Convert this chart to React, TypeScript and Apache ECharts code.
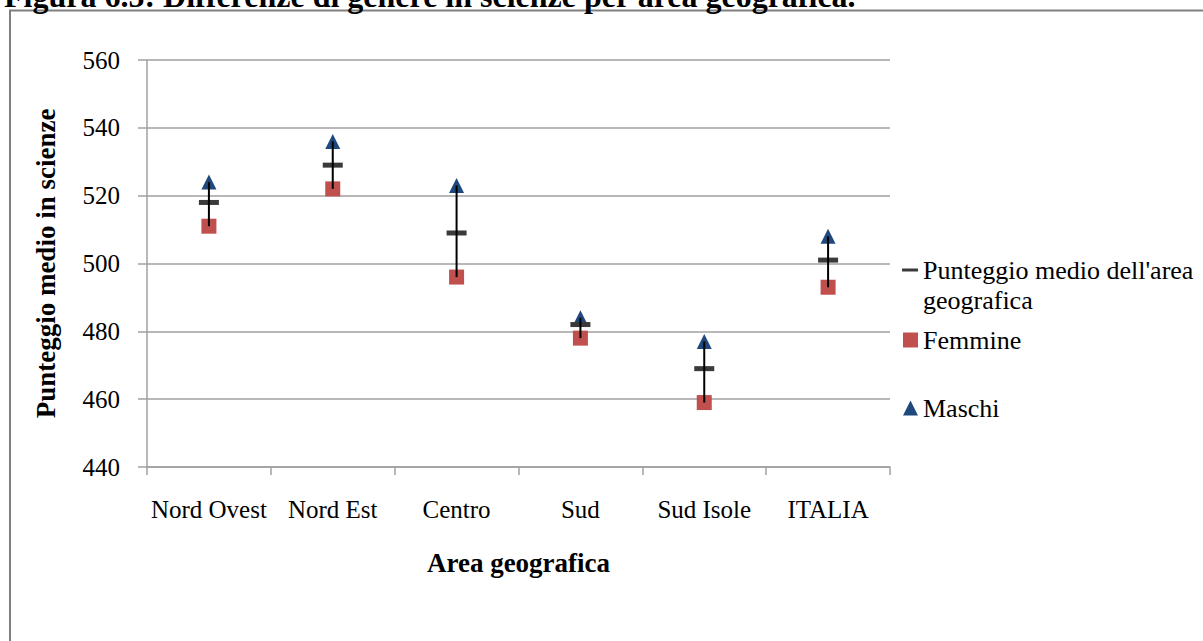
import React, { useEffect, useRef } from 'react';
import * as echarts from 'echarts';

const categories = ['Nord Ovest', 'Nord Est', 'Centro', 'Sud', 'Sud Isole', 'ITALIA'];
const mediaArea = [518, 529, 509, 482, 469, 501];
const femmine = [511, 522, 496, 478, 459, 493];
const maschi = [524, 536, 523, 484, 477, 508];
const yMin = 440;
const yMax = 560;
const yInterval = 20;
const seriesNames = ["Punteggio medio dell'area geografica", 'Femmine', 'Maschi'];
const legendLabels = ["\nPunteggio medio dell'area\ngeografica", 'Femmine', 'Maschi'];
const titleText = 'Figura 6.5: Differenze di genere in scienze per area geografica.';
const yAxisTitle = 'Punteggio medio in scienze';
const xAxisTitle = 'Area geografica';

const SERIF = '"Liberation Serif", "Times New Roman", serif';
const GRID_COLOR = '#A0A0A0';

export default function App() {
  const ref = useRef<HTMLDivElement>(null);

  useEffect(() => {
    if (!ref.current) return;
    const chart = echarts.init(ref.current, undefined, { renderer: 'svg' });

    const rangeData = categories.map((_, i) => [i, femmine[i], maschi[i]]);

    const legendText = {
      fontFamily: SERIF,
      fontSize: 26,
      lineHeight: 30,
      color: '#000',
    };

    chart.setOption({
      animation: false,
      backgroundColor: '#fff',
      grid: { left: 147, right: 313, top: 60, bottom: 174, containLabel: false },
      graphic: [
        {
          type: 'rect',
          shape: { x: 10, y: 10.5, width: 1200, height: 640 },
          style: { fill: 'none', stroke: '#808080', lineWidth: 2 },
          silent: true,
        },
        {
          type: 'text',
          x: 4,
          y: -4,
          style: {
            text: titleText,
            fontFamily: SERIF,
            fontSize: 32,
            fontWeight: 'bold',
            fill: '#000',
            verticalAlign: 'middle',
          },
          silent: true,
        },
      ],
      legend: [
        {
          left: 902,
          top: 225,
          orient: 'vertical',
          padding: 0,
          itemWidth: 16,
          itemHeight: 15,
          selectedMode: false,
          data: [{ name: seriesNames[0], icon: 'path://M0,0H16V3H0Z' }],
          formatter: () => legendLabels[0],
          textStyle: legendText,
        },
        {
          left: 903,
          top: 325,
          orient: 'vertical',
          padding: 0,
          itemWidth: 15,
          itemHeight: 15,
          selectedMode: false,
          data: [{ name: seriesNames[1], icon: 'rect' }],
          formatter: () => legendLabels[1],
          textStyle: legendText,
        },
        {
          left: 903,
          top: 393,
          orient: 'vertical',
          padding: 0,
          itemWidth: 15,
          itemHeight: 15,
          selectedMode: false,
          data: [{ name: seriesNames[2], icon: 'triangle' }],
          formatter: () => legendLabels[2],
          textStyle: legendText,
        },
      ],
      xAxis: {
        type: 'category',
        data: categories,
        boundaryGap: true,
        axisLine: { show: true, lineStyle: { color: GRID_COLOR, width: 1.5 } },
        axisTick: { show: true, length: 8, lineStyle: { color: GRID_COLOR, width: 1.5 } },
        axisLabel: { fontFamily: SERIF, fontSize: 25, color: '#000', margin: 30, interval: 0 },
        splitLine: { show: false },
        name: xAxisTitle,
        nameLocation: 'middle',
        nameGap: 82,
        nameTextStyle: { fontFamily: SERIF, fontSize: 27, fontWeight: 'bold', color: '#000' },
      },
      yAxis: {
        type: 'value',
        min: yMin,
        max: yMax,
        interval: yInterval,
        axisLine: { show: true, lineStyle: { color: GRID_COLOR, width: 1.5 } },
        axisTick: { show: true, length: 9, lineStyle: { color: GRID_COLOR, width: 1.5 } },
        axisLabel: { fontFamily: SERIF, fontSize: 25, color: '#000', margin: 27 },
        splitLine: { show: true, lineStyle: { color: GRID_COLOR, width: 1.5 } },
        name: yAxisTitle,
        nameLocation: 'middle',
        nameGap: 88,
        nameRotate: 90,
        nameTextStyle: { fontFamily: SERIF, fontSize: 27, fontWeight: 'bold', color: '#000' },
      },
      series: [
        {
          name: seriesNames[0],
          type: 'scatter',
          data: mediaArea,
          symbol: 'rect',
          symbolSize: [20, 5],
          itemStyle: { color: '#3A3A3A', opacity: 1 },
          z: 3,
        },
        {
          name: seriesNames[1],
          type: 'scatter',
          data: femmine,
          symbol: 'rect',
          symbolSize: 15,
          itemStyle: { color: '#C0504D', opacity: 1 },
          z: 2,
        },
        {
          name: seriesNames[2],
          type: 'scatter',
          data: maschi,
          symbol: 'triangle',
          symbolSize: 15,
          itemStyle: { color: '#1F497D', opacity: 1 },
          z: 2,
        },
        {
          name: 'range',
          type: 'custom',
          data: rangeData,
          encode: { x: 0, y: [1, 2] },
          z: 4,
          silent: true,
          renderItem: (params: any, api: any) => {
            const lo = api.coord([api.value(0), api.value(1)]);
            const hi = api.coord([api.value(0), api.value(2)]);
            return {
              type: 'line',
              shape: { x1: lo[0], y1: lo[1], x2: hi[0], y2: hi[1] },
              style: { stroke: '#000', lineWidth: 2 },
            };
          },
        },
      ],
    });

    return () => chart.dispose();
  }, []);

  return (
    <div
      ref={ref}
      style={{ position: 'absolute', left: 0, top: 0, width: 1203, height: 641, background: '#fff' }}
    />
  );
}
